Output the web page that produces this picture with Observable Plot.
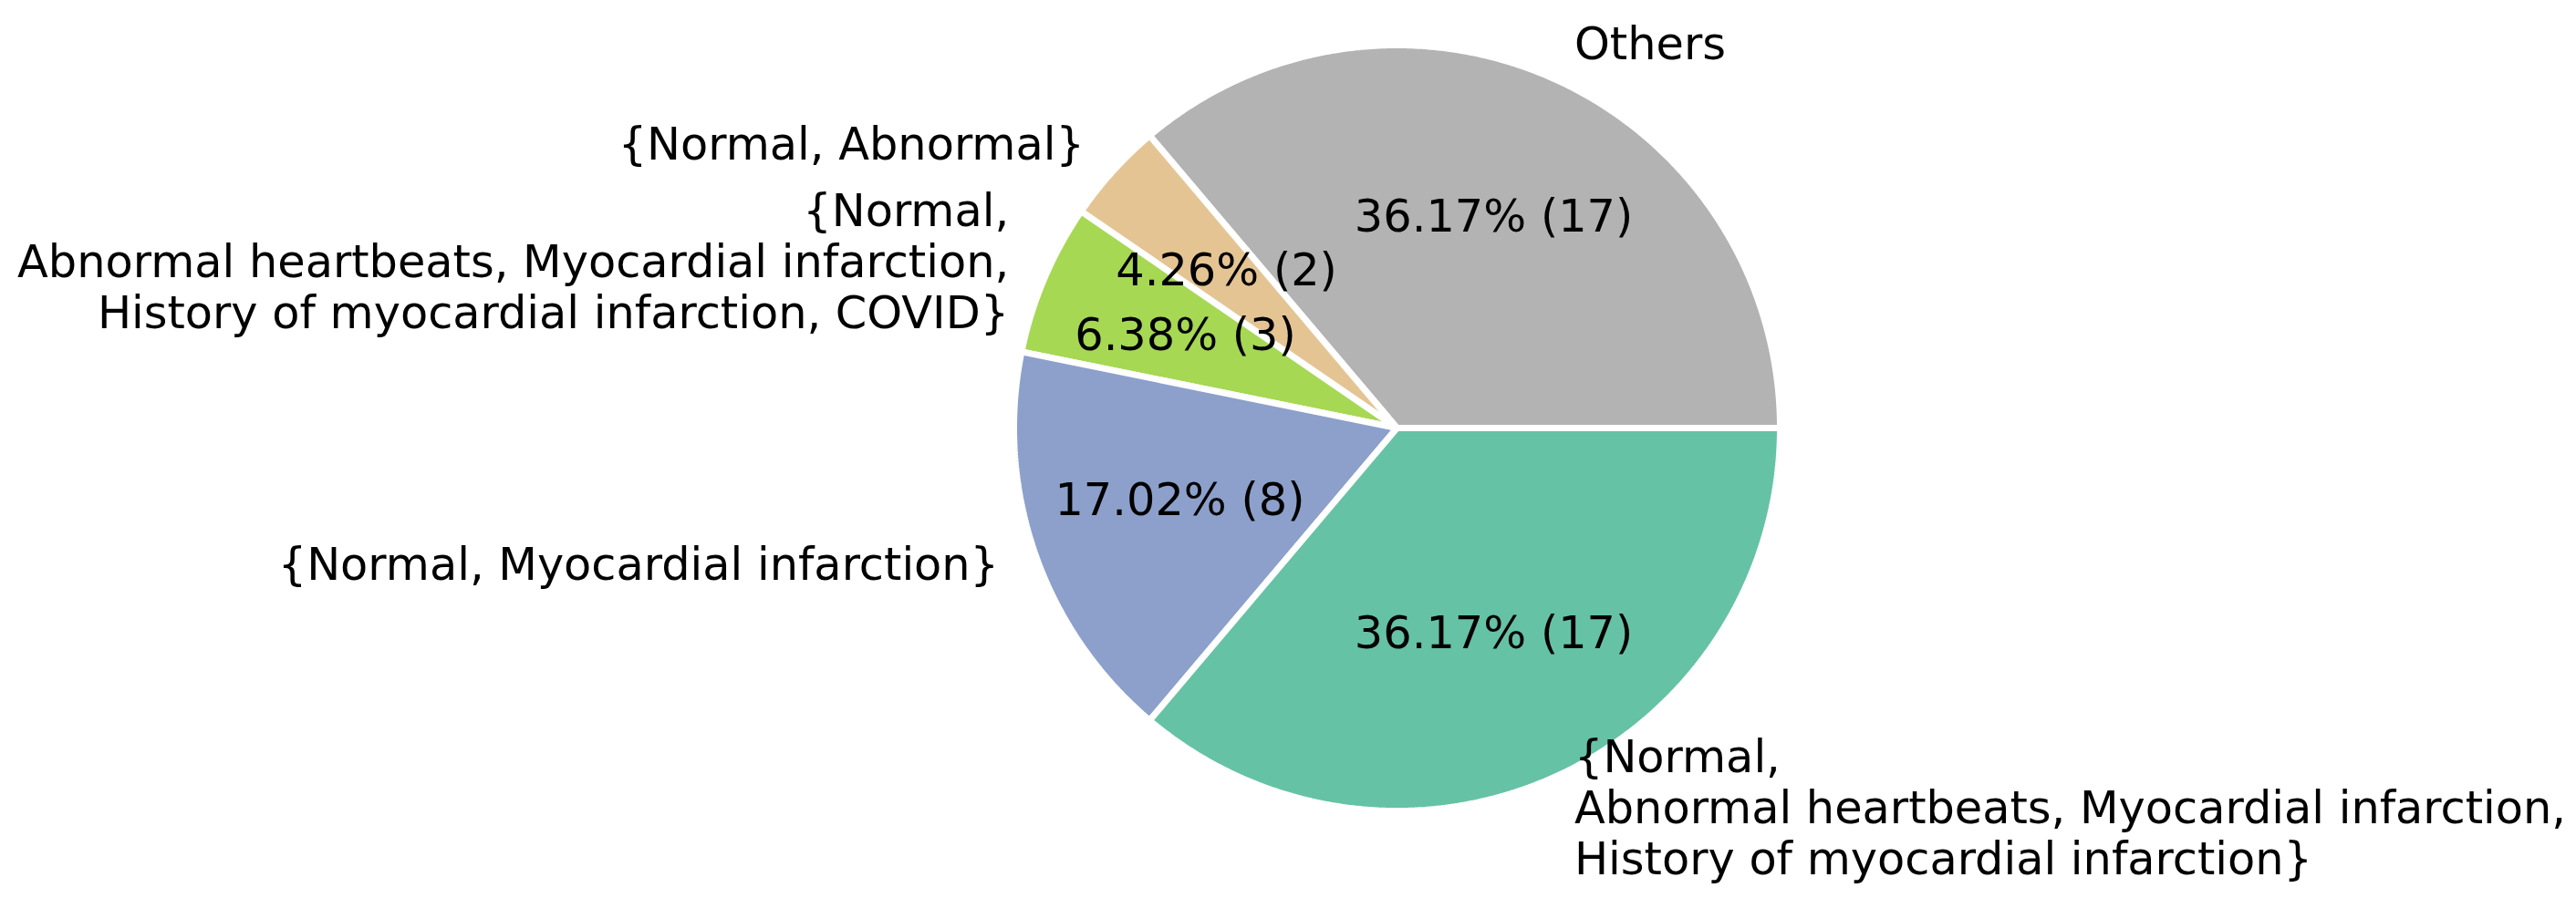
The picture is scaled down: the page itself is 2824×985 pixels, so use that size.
<!DOCTYPE html>
<html>
<head>
<meta charset="utf-8">
<script src="https://cdn.jsdelivr.net/npm/d3@7"></script>
<script src="https://cdn.jsdelivr.net/npm/@observablehq/plot@0.6"></script>
<style>
  html, body { margin: 0; padding: 0; background: #ffffff; }
  #chart svg { display: block; }
</style>
</head>
<body>
<div id="chart"></div>
<script>
const labels = [
  "Others",
  "{Normal, Abnormal}",
  "{Normal,\nAbnormal heartbeats, Myocardial infarction,\nHistory of myocardial infarction, COVID}",
  "{Normal, Myocardial infarction}",
  "{Normal,\nAbnormal heartbeats, Myocardial infarction,\nHistory of myocardial infarction}"
];
const counts = [17, 2, 3, 8, 17];
const colors = ["#b3b3b3", "#e5c494", "#a6d854", "#8da0cb", "#66c2a5"];

const total = d3.sum(counts);
// slices: counter-clockwise from 3 o'clock (matplotlib default)
let acc = 0;
const slices = counts.map((v, i) => {
  const a0 = acc / total * 2 * Math.PI;
  acc += v;
  const a1 = acc / total * 2 * Math.PI;
  return {label: labels[i], value: v, a0, a1, mid: (a0 + a1) / 2};
});

const wedgePts = [];
for (const s of slices) {
  wedgePts.push({label: s.label, x: 0, y: 0});
  const n = Math.max(2, Math.ceil((s.a1 - s.a0) / (Math.PI / 360)));
  for (let k = 0; k <= n; k++) {
    const a = s.a0 + (s.a1 - s.a0) * k / n;
    wedgePts.push({label: s.label, x: Math.cos(a), y: Math.sin(a)});
  }
}

const outerLabels = slices.map(s => ({
  text: s.label,
  x: 1.1 * Math.cos(s.mid),
  y: 1.1 * Math.sin(s.mid),
  anchor: Math.cos(s.mid) >= 0 ? "start" : "end"
}));
const pctLabels = slices.map(s => ({
  text: (s.value / total * 100).toFixed(2) + "% (" + s.value + ")",
  x: 0.6 * Math.cos(s.mid),
  y: 0.6 * Math.sin(s.mid)
}));

const cx = 1531, cy = 469, R = 420;
const FS = 49.4;
const LH = 56 / FS;

const chart = Plot.plot({
  width: 2824,
  height: 985,
  margin: 0,
  style: {fontFamily: "DejaVu Sans", background: "#ffffff"},
  x: {domain: [-1, 1], range: [cx - R, cx + R], axis: null},
  y: {domain: [-1, 1], range: [cy + R, cy - R], axis: null},
  color: {domain: labels, range: colors},
  marks: [
    Plot.line(wedgePts, {
      x: "x", y: "y", z: "label",
      fill: "label",
      stroke: "#ffffff",
      strokeWidth: 7,
      strokeLinejoin: "miter",
      curve: "linear-closed"
    }),
    Plot.text(outerLabels.filter(d => d.anchor === "start"), {
      x: "x", y: "y", text: "text",
      textAnchor: "start", lineAnchor: "middle",
      fontSize: FS, lineHeight: LH, dy: -3, fill: "#000000"
    }),
    Plot.text(outerLabels.filter(d => d.anchor === "end"), {
      x: "x", y: "y", text: "text",
      textAnchor: "end", lineAnchor: "middle",
      fontSize: FS, lineHeight: LH, dy: -3, fill: "#000000"
    }),
    Plot.text(pctLabels, {
      x: "x", y: "y", text: "text",
      textAnchor: "middle", lineAnchor: "middle",
      fontSize: FS, dy: -3, fill: "#000000"
    })
  ]
});
document.getElementById("chart").appendChild(chart);
</script>
</body>
</html>
